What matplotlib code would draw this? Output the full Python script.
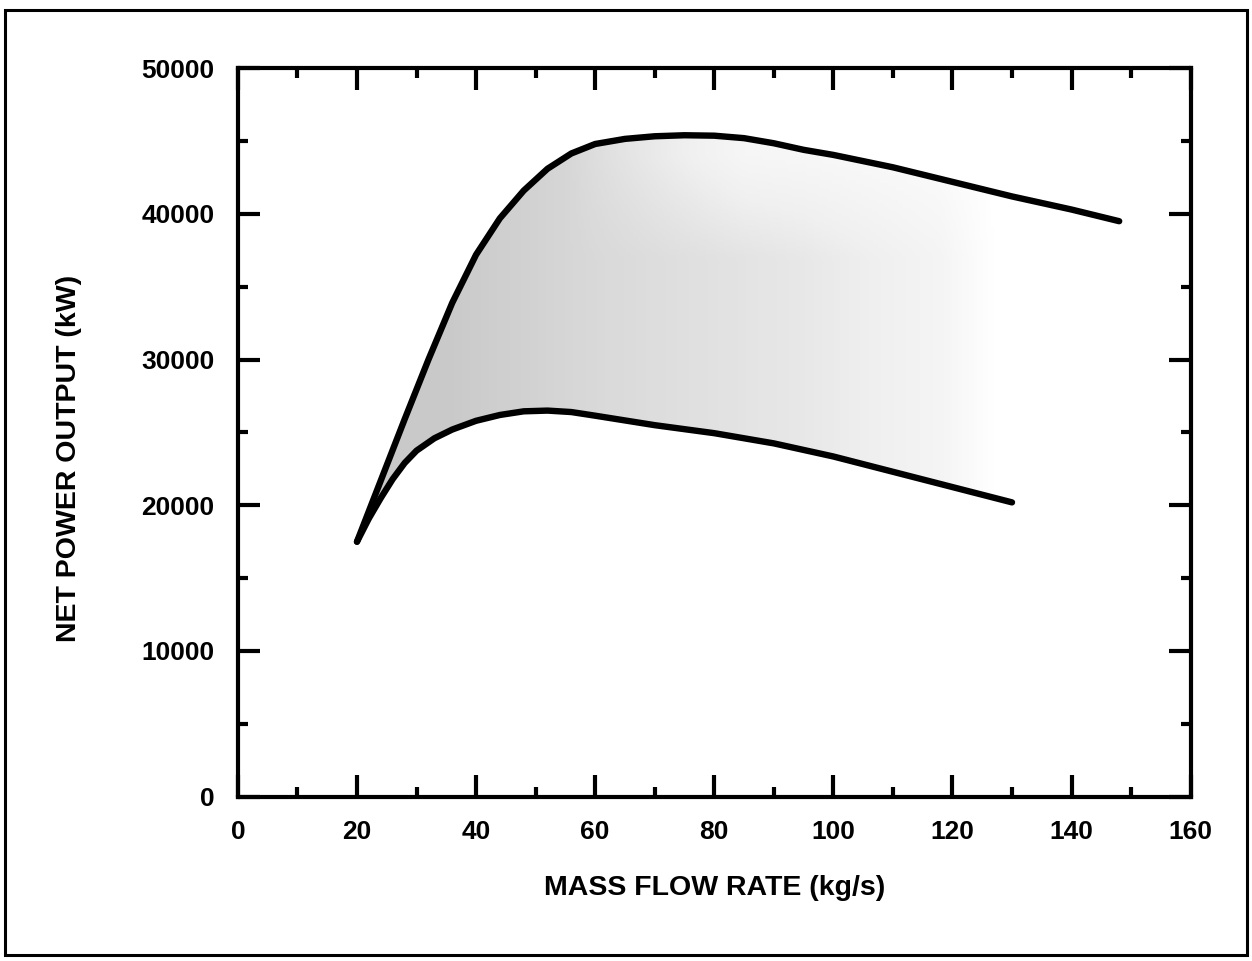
import matplotlib
matplotlib.use("Agg")
import matplotlib.pyplot as plt
import numpy as np
from matplotlib.patches import Rectangle

# 読み取った曲線データ
x_upper = [20, 24, 28, 32, 36, 40, 44, 48, 52, 56, 60, 65, 70, 75, 80, 85, 90,
           95, 100, 110, 120, 130, 140, 148]
y_upper = [17500, 21700, 25900, 30000, 33900, 37200, 39700, 41600, 43100, 44150,
           44800, 45150, 45330, 45400, 45370, 45200, 44850, 44400, 44050, 43200,
           42200, 41200, 40300, 39500]

x_lower = [20, 22, 24, 26, 28, 30, 33, 36, 40, 44, 48, 52, 56, 60, 70, 80, 90,
           100, 110, 120, 130]
y_lower = [17500, 19100, 20500, 21800, 22900, 23750, 24600, 25200, 25800, 26200,
           26450, 26500, 26400, 26150, 25500, 24950, 24250, 23350, 22300, 21250, 20200]

x_ticks = [0, 20, 40, 60, 80, 100, 120, 140, 160]
y_ticks = [0, 10000, 20000, 30000, 40000, 50000]

plt.rcParams['font.family'] = ['Liberation Sans', 'DejaVu Sans']
plt.rcParams['font.weight'] = 'bold'

fig = plt.figure(figsize=(12.52, 9.61), dpi=100)
ax = fig.add_axes([0.190, 0.171, 0.761, 0.758])

# 網掛け領域（上下の曲線の間）
xs = np.linspace(20, 148, 400)
yu = np.interp(xs, x_upper, y_upper)
yl = np.interp(xs, x_lower, y_lower)
region = ax.fill_between(xs, yl, yu, facecolor='none', edgecolor='none')

gx = np.linspace(20, 150, 300)
gy = np.linspace(15000, 47000, 120)
GX, GY = np.meshgrid(gx, gy)
base = np.interp(GX, [20, 35, 60, 95, 118, 127, 150], [0.32, 0.32, 0.25, 0.17, 0.09, 0.0, 0.0])
fade = 1 - 0.6 * np.clip((GY - 37000) / 7000, 0, 1) * np.clip((GX - 55) / 30, 0, 1)
im = ax.imshow(base * fade, extent=[20, 150, 15000, 47000], aspect='auto', cmap='Greys',
               vmin=0, vmax=1, origin='lower', zorder=1, interpolation='bilinear')
im.set_clip_path(region.get_paths()[0], transform=ax.transData)

ax.plot(x_upper, y_upper, color='black', lw=4.6, solid_capstyle='round',
        solid_joinstyle='round', zorder=3)
ax.plot(x_lower, y_lower, color='black', lw=4.6, solid_capstyle='round',
        solid_joinstyle='round', zorder=3)

ax.set_xlim(0, 160)
ax.set_ylim(0, 50000)
ax.set_xticks(x_ticks)
ax.set_yticks(y_ticks)
ax.set_xticks(np.arange(10, 160, 20), minor=True)
ax.set_yticks(np.arange(5000, 50000, 10000), minor=True)
ax.tick_params(which='both', direction='in', top=True, right=True, width=3,
               labelsize=19, pad=17)
ax.tick_params(which='major', length=16)
ax.tick_params(which='minor', length=7)
for s in ax.spines.values():
    s.set_linewidth(3)

ax.set_xlabel('MASS FLOW RATE (kg/s)', fontsize=20.5, fontweight='bold')
ax.set_ylabel('NET POWER OUTPUT (kW)', fontsize=20.5, fontweight='bold')
ax.xaxis.set_label_coords(0.5, -0.108)
ax.yaxis.set_label_coords(-0.164, 0.465)

# 外枠
fig.patches.append(Rectangle((0.004, 0.006), 0.992, 0.984, transform=fig.transFigure,
                             fill=False, lw=2.2, edgecolor='black'))

fig.savefig('out.png', dpi=100)
